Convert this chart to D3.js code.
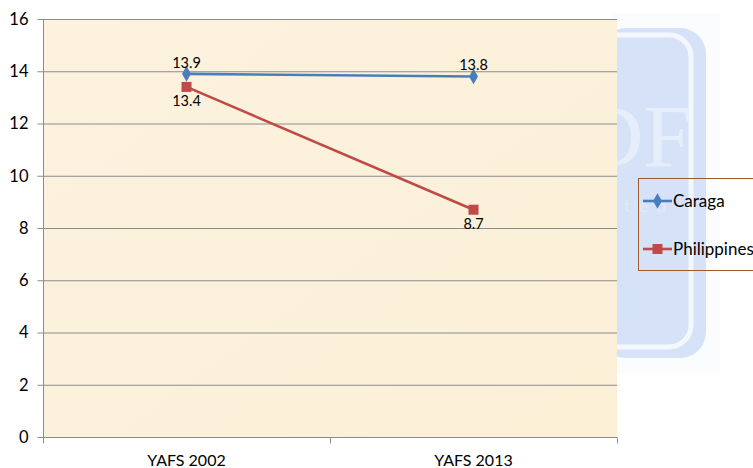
<!DOCTYPE html>
<html><head><meta charset="utf-8">
<script src="https://cdn.jsdelivr.net/npm/d3@7"></script>
<style>body{margin:0;background:#fff}svg{display:block}text{font-family:Lato,"Open Sans",sans-serif}</style>
</head><body>
<svg id="c" width="753" height="468"></svg>
<script>
const categories = ["YAFS 2002", "YAFS 2013"];
const caraga = [13.9, 13.8];
const philippines = [13.4, 8.7];
const seriesNames = ["Caraga", "Philippines"];
const yTicks = [0, 2, 4, 6, 8, 10, 12, 14, 16];

const svg = d3.select("#c");
const m = {l: 43, r: 617, t: 19, b: 437};

// watermark
const wm = svg.append("g");
wm.append("rect").attr("x", 612).attr("y", 13).attr("width", 108).attr("height", 360).attr("fill", "#fbfcfe");
wm.append("rect").attr("x", 600).attr("y", 28).attr("width", 106).attr("height", 330).attr("rx", 26).attr("fill", "#d5e2f8");
wm.append("rect").attr("x", 596).attr("y", 35).attr("width", 95).attr("height", 312).attr("rx", 22).attr("fill", "none").attr("stroke", "#f4f8fe").attr("stroke-width", 5);
wm.append("text").attr("x", 580).attr("y", 166).style("font-family", "'Liberation Serif', serif").attr("font-size", 88).attr("fill", "#e6eefb").text("DF");
wm.append("text").attr("x", 624).attr("y", 212).attr("font-size", 18).attr("fill", "#e3eaf6").attr("letter-spacing", 8).text("ted");

const x = d3.scaleBand().domain(categories).range([m.l, m.r]);
const y = d3.scaleLinear().domain([0, 16]).range([m.b, m.t]);

// plot background
const defs = svg.append("defs");
const g0 = defs.append("linearGradient").attr("id", "bg").attr("x1", 0).attr("y1", 0).attr("x2", 1).attr("y2", 1);
g0.append("stop").attr("offset", 0).attr("stop-color", "#fcf2de");
g0.append("stop").attr("offset", 1).attr("stop-color", "#fbefd6");
svg.append("rect").attr("x", m.l).attr("y", m.t).attr("width", m.r - m.l).attr("height", m.b - m.t).attr("fill", "url(#bg)");

// gridlines
svg.append("g").selectAll("line").data(yTicks.filter(d => d > 0)).join("line")
  .attr("x1", m.l).attr("x2", m.r).attr("y1", d => y(d) + 0.5).attr("y2", d => y(d) + 0.5)
  .attr("stroke", "#8c8c8c").attr("stroke-width", 1);

// y axis
const ya = svg.append("g").attr("transform", `translate(${m.l + 0.5},0)`)
  .call(d3.axisLeft(y).tickValues(yTicks).tickSize(6).tickPadding(9).tickFormat(d3.format("d")));
ya.select(".domain").attr("stroke", "#8c8c8c").attr("d", `M0,${m.t}V${m.b}`);
ya.selectAll(".tick line").attr("stroke", "#8c8c8c");
ya.selectAll(".tick text").attr("font-size", 16.5).attr("fill", "#000");

// x axis
const xa = svg.append("g").attr("transform", `translate(0,${m.b + 0.5})`)
  .call(d3.axisBottom(x).tickSize(0).tickPadding(17));
xa.select(".domain").attr("stroke", "#8c8c8c").attr("d", `M${m.l},0H${m.r}`);
xa.selectAll(".tick text").attr("font-size", 16).attr("fill", "#000");
const bounds = [m.l, ...categories.map(c => x(c) + x.bandwidth())];
xa.append("g").selectAll("line").data(bounds).join("line")
  .attr("x1", d => d + 0.5).attr("x2", d => d + 0.5).attr("y1", 0).attr("y2", 6).attr("stroke", "#8c8c8c");

const cx = c => x(c) + x.bandwidth() / 2;
const line = d3.line().x(d => cx(d.c)).y(d => y(d.v));
const data = [
  {name: seriesNames[0], vals: caraga, color: "#4a7ebb", marker: "diamond", labelPos: "above"},
  {name: seriesNames[1], vals: philippines, color: "#be4b48", marker: "square", labelPos: "below"}
];

function drawMarker(g, type, px, py, color) {
  if (type === "diamond") {
    g.append("path").attr("d", d3.symbol(d3.symbolDiamond, 70)()).attr("transform", `translate(${px},${py})`).attr("fill", color);
  } else {
    g.append("rect").attr("x", px - 5).attr("y", py - 5).attr("width", 10).attr("height", 10).attr("fill", color);
  }
}

data.forEach(s => {
  const pts = s.vals.map((v, i) => ({c: categories[i], v}));
  svg.append("path").datum(pts).attr("d", line).attr("fill", "none").attr("stroke", s.color).attr("stroke-width", 2.6);
  const g = svg.append("g");
  pts.forEach(p => drawMarker(g, s.marker, cx(p.c), y(p.v), s.color));
  svg.append("g").selectAll("text").data(pts).join("text")
    .attr("x", p => cx(p.c)).attr("y", p => s.labelPos === "above" ? y(p.v) - 6 : y(p.v) + 19)
    .attr("text-anchor", "middle").attr("font-size", 14.5).attr("fill", "#000").text(p => p.v);
});

// legend
const lg = svg.append("g");
lg.append("rect").attr("x", 638.5).attr("y", 178.5).attr("width", 130).attr("height", 92).attr("fill", "none").attr("stroke", "#a0592b").attr("stroke-width", 1);
data.forEach((s, i) => {
  const ly = 201 + i * 48;
  lg.append("line").attr("x1", 643).attr("x2", 672).attr("y1", ly).attr("y2", ly).attr("stroke", s.color).attr("stroke-width", 2.6);
  drawMarker(lg, s.marker, 657.5, ly, s.color);
  lg.append("text").attr("x", 673).attr("y", ly + 6).attr("font-size", 17).attr("fill", "#000").text(s.name);
});
</script>
</body></html>
